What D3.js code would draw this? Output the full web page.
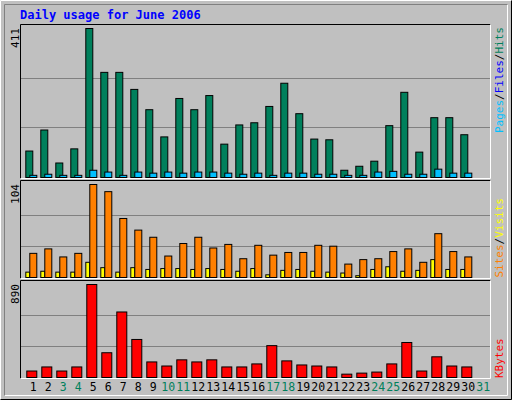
<!DOCTYPE html><html><head><script src="https://d3js.org/d3.v7.min.js"></script>
<style>body{margin:0}svg{display:block}text{font-family:"DejaVu Sans Mono",monospace}</style></head><body>
<script>
const days=d3.range(1,32);
const weekend=[3,4,10,11,17,18,24,25,31];
const hits=[73,131,40,79,411,290,290,243,187,112,218,187,226,92,145,151,196,260,176,106,104,20,31,45,143,235,70,165,165,118];
const pages=[6,9,6,6,20,15,6,15,12,15,12,15,15,12,9,12,6,12,12,9,9,6,6,15,17,9,9,23,12,12];
const sites=[27,32,23,27,104,96,66,53,45,24,38,45,33,37,21,36,25,28,28,36,35,15,20,21,29,32,17,49,29,23];
const visits=[6,7,6,6,17,11,6,11,9,10,10,9,10,9,7,10,3,8,9,7,6,5,2,9,12,7,8,20,9,9];
const kbytes=[62,101,62,101,890,237,627,364,149,110,169,149,169,101,101,130,305,159,120,110,101,32,42,52,130,335,62,198,110,101];
const W=512,H=400;
const svg=d3.select("body").append("svg").attr("width",W).attr("height",H);
svg.append("rect").attr("width",W).attr("height",H).attr("fill","#c0c0c0");
svg.append("path").attr("d","M0.5,399.5V0.5H511.5").attr("stroke","#fff").attr("fill","none");
svg.append("path").attr("d","M0.5,399.5H511.5V0.5").attr("stroke","#000").attr("fill","none");
svg.append("path").attr("d","M4.5,395.5H507.5V4.5").attr("stroke","#fff").attr("fill","none");
svg.append("path").attr("d","M4.5,395.5V4.5H507.5").attr("stroke","#808080").attr("fill","none");
svg.append("text").attr("x",20).attr("y",19).attr("fill","#0000ff").attr("font-weight","bold").attr("font-size",12).text("Daily usage for June 2006");
const x=d3.scaleLinear().domain([1,2]).range([25.3,40.3]);
function panel(top,bot,max){
  svg.append("path").attr("d",`M20.5,${bot+0.5}V${top+0.5}H490.5`).attr("stroke","#000").attr("fill","none");
  svg.append("path").attr("d",`M20.5,${bot+0.5}H490.5V${top+0.5}`).attr("stroke","#fff").attr("fill","none");
  const y=d3.scaleLinear().domain([0,max]).range([bot-1,top+4]);
  [1/3,2/3].forEach(f=>svg.append("line").attr("x1",21).attr("x2",490).attr("y1",Math.round(y(max*f))+0.5).attr("y2",Math.round(y(max*f))+0.5).attr("stroke","#808080"));
  svg.append("text").attr("transform",`translate(19,${top+4}) rotate(-90)`).attr("text-anchor","end").attr("font-size",11).attr("fill","#000").text(max);
  return y;
}
function bars(y,data,dx,w,color){
  svg.append("g").selectAll("rect").data(data).join("rect")
   .attr("x",(d,i)=>x(i+1)+dx+0.5).attr("width",w).attr("y",d=>y(d)+0.5).attr("height",d=>y(0)-y(d))
   .attr("fill",color).attr("stroke","#000");
}
function vlabel(parts,xpos,ypos,anchor){
  const t=svg.append("text").attr("transform",`translate(${xpos},${ypos}) rotate(-90)`).attr("font-size",11).attr("text-anchor",anchor);
  parts.forEach(p=>t.append("tspan").attr("fill",p[1]).text(p[0]));
}
const y1=panel(24,178,411);
bars(y1,hits,0,7,"#00805c");
bars(y1,pages,4,7,"#00c0ff");
vlabel([["Pages","#00c0ff"],["/","#000"],["Files","#0000ff"],["/","#000"],["Hits","#00805c"]],503,27,"end");
const y2=panel(180,278,104);
bars(y2,visits,0,4,"#ffff00");
bars(y2,sites,4,7,"#ff8000");
vlabel([["Sites","#ff8000"],["/","#000"],["Visits","#ffff00"]],503,198,"end");
const y3=panel(280,378,890);
bars(y3,kbytes,1,10,"#ff0000");
vlabel([["KBytes","#ff0000"]],503,378,"start");
svg.append("g").selectAll("text").data(days).join("text").attr("x",d=>x(d)+8).attr("y",391).attr("text-anchor","middle")
 .attr("font-size",11.5).attr("fill",d=>weekend.includes(d)?"#00805c":"#000").text(d=>d);
</script></body></html>
